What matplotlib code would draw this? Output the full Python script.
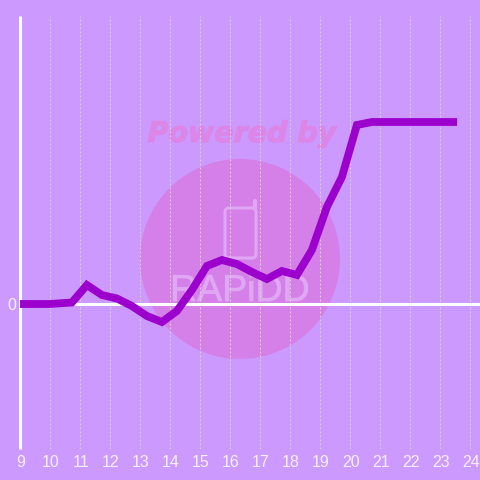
import matplotlib
matplotlib.use("Agg")
from matplotlib import pyplot as plt
from matplotlib.patches import Circle, FancyBboxPatch
from matplotlib.transforms import ScaledTranslation
import matplotlib.patheffects as pe

# values, y is in arbitrary units (baseline = 0)
hours = [9, 10, 10.73, 11.23, 11.73, 12.23, 12.73, 13.23, 13.73, 14.23, 14.73, 15.23,
         15.73, 16.23, 16.73, 17.23, 17.73, 18.23, 18.73, 19.23, 19.73, 20.23, 20.73, 21.23, 23.57]
values = [0, 0, 1.5, 19, 9, 5.5, -2, -12, -18, -7, 14, 38,
          44, 40, 32, 25, 33, 29, 54, 97, 127, 179, 182, 182, 182]
xticks = list(range(9, 25))
bg = "#cc99ff"
logo = "#e0a8f4"

fig = plt.figure(figsize=(4.8, 4.8), dpi=100, facecolor=bg)
ax = fig.add_axes([20 / 480, 31 / 480, 460 / 480, 433 / 480], facecolor=bg)
ax.set_xlim(9, 9 + 460 / 30)
ax.set_ylim(-145, 288)

# watermark, drawn in figure pixels
wm = fig.add_axes([0, 0, 1, 1], facecolor="none", zorder=0)
wm.set_xlim(0, 480)
wm.set_ylim(480, 0)
wm.axis("off")
ax.set_zorder(1)
ax.patch.set_alpha(0)
wm.add_patch(Circle((240, 259), 100, color="#d580e8", lw=0))
wm.text(242, 134, "Powered by", color="#dc86e8", fontsize=20.5, fontweight="bold",
        fontstyle="italic", ha="center", va="center", family="DejaVu Sans",
        path_effects=[pe.withStroke(linewidth=0.8, foreground="#dc86e8")])
wm.add_patch(FancyBboxPatch((225, 208), 31, 50, boxstyle="round,pad=0,rounding_size=4",
                            fill=False, ec=logo, lw=2.2))
wm.plot([255, 255], [208, 201], color=logo, lw=3, solid_capstyle="round")
wm.text(240, 291, "RAPiDD", color=logo, fontsize=27, ha="center", va="center",
        family="Liberation Sans",
        path_effects=[pe.withStroke(linewidth=0.5, foreground=logo)])

ax.grid(axis="x", color="#d0dab8", linestyle=(0, (2, 2)), linewidth=0.72)
ax.set_xticks(xticks)
ax.set_yticks([0])
ax.tick_params(length=0, labelsize=11.5, labelcolor="#f8f0ff")
ax.tick_params(axis="x", pad=4)
ax.tick_params(axis="y", pad=3)
for lab in ax.get_xticklabels() + ax.get_yticklabels():
    lab.set_family("Liberation Sans")
for lab in ax.get_xticklabels():
    lab.set_transform(lab.get_transform() + ScaledTranslation(0.7 / 100, 0, fig.dpi_scale_trans))

for s in ["top", "right", "bottom"]:
    ax.spines[s].set_visible(False)
ax.spines["left"].set_color("white")
ax.spines["left"].set_linewidth(2.2)
ax.spines["left"].set_capstyle("butt")
ax.axhline(0, color="white", lw=2.2, zorder=2)
ax.plot(hours, values, color="#9c00cc", lw=5.6, solid_joinstyle="miter", solid_capstyle="butt", zorder=3)

fig.savefig("out.png", dpi=100, facecolor=bg)
